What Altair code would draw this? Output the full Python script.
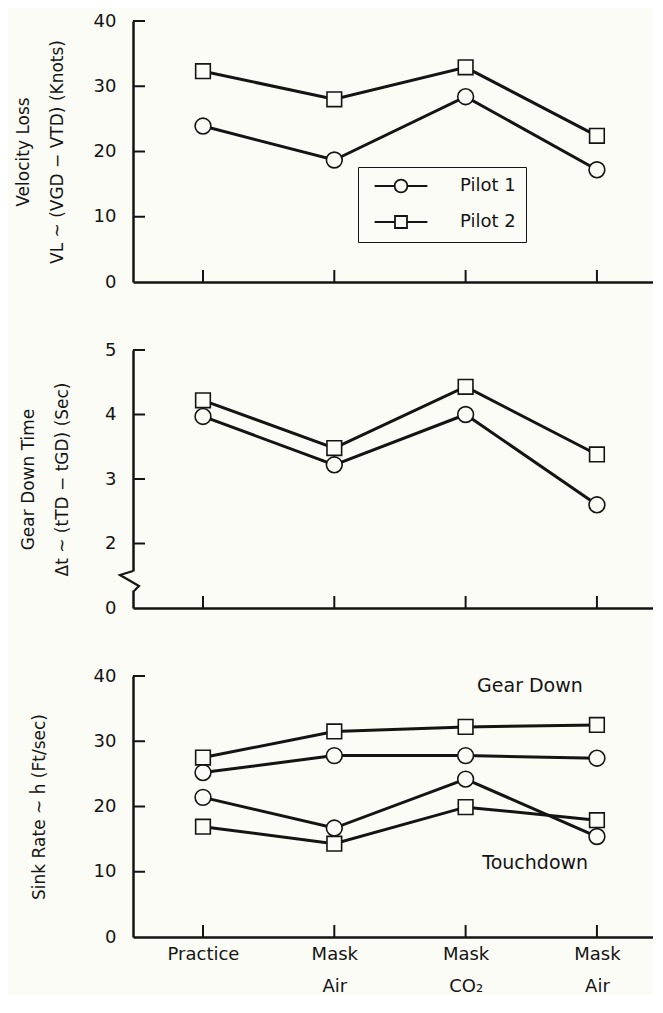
import altair as alt
import pandas as pd

# ---------------- data ----------------
positions = [1, 2, 3, 4]
condition_labels = ["Practice", "Mask|Air", "Mask|CO\u2082", "Mask|Air"]
pilots = ["Pilot 1", "Pilot 2"]

velocity_p1 = [23.9, 18.7, 28.4, 17.2]
velocity_p2 = [32.3, 28.0, 32.9, 22.4]

geartime_p1 = [3.97, 3.22, 4.00, 2.60]
geartime_p2 = [4.22, 3.48, 4.43, 3.38]

sink_gd_p1 = [25.2, 27.8, 27.8, 27.4]
sink_gd_p2 = [27.5, 31.5, 32.2, 32.5]
sink_td_p1 = [21.4, 16.7, 24.2, 15.4]
sink_td_p2 = [16.9, 14.3, 19.9, 17.9]

vel_axis_values = [0, 10, 20, 30, 40]
vel_tick_values = [10, 20, 30, 40]
gear_axis_values = [1, 2, 3, 4, 5]      # bottom "1" is shown as the broken-axis "0"
gear_tick_values = [2, 3, 4, 5]
sink_axis_values = [0, 10, 20, 30, 40]
sink_tick_values = [10, 20, 30, 40]

annot_text = ["Gear Down", "Touchdown"]
annot_x = [3.49, 3.53]
annot_y = [38.5, 11.3]

# ---------------- style ----------------
BG = "#fcfcf6"
INK = "#141414"
FONT = "DejaVu Sans"
W = 520
H_TOP, H_MID, H_BOT = 261, 258, 261
X_DOMAIN = [0.467, 4.427]

LABEL_EXPR = "split([" + ",".join("'" + s + "'" for s in condition_labels) + "][datum.value - 1], '|')"

CIRC_PATH = ("M-3.3,0L-0.8,0M0.8,0L3.3,0M-0.8,0A0.8,0.8 0 1,1 0.8,0"
             "A0.8,0.8 0 1,1 -0.8,0Z")
SQ_PATH = "M-3.3,0L-0.75,0M0.75,0L3.3,0M-0.75,-0.75L0.75,-0.75L0.75,0.75L-0.75,0.75Z"
ZIGZAG = "M0,-1L-1.3,-0.6L0.6,0.5L0.1,1"


def make_df(series):
    rows = []
    for name, pilot, vals in series:
        for p, v in zip(positions, vals):
            rows.append({"pos": p, "value": v, "pilot": pilot, "line": name})
    return pd.DataFrame(rows)


def panel(df, ydomain, yvalues, yticks, title, title_pad, height, show_x_labels,
          ylabel_expr="datum.label"):
    xs = alt.Scale(domain=X_DOMAIN, nice=False, zero=False)
    ys = alt.Scale(domain=ydomain, nice=False, zero=False)
    xaxis = alt.Axis(values=positions, ticks=False, grid=False, title=None,
                     labels=show_x_labels, labelExpr=LABEL_EXPR, labelFont=FONT,
                     labelFontSize=18, labelColor=INK, labelPadding=8,
                     labelLineHeight=32, labelBaseline="top", labelOverlap=False,
                     labelFlush=False, domainColor=INK, domainWidth=2.5, zindex=0)
    yaxis = alt.Axis(values=yvalues, ticks=False, grid=False, title=title,
                     titlePadding=title_pad, titleFont=FONT, titleFontSize=17,
                     titleFontWeight="normal", titleColor=INK, titleLineHeight=34,
                     labelExpr=ylabel_expr, labelFont=FONT, labelFontSize=18,
                     labelColor=INK, labelPadding=17, labelOverlap=False,
                     labelFlush=False, minExtent=40, maxExtent=40,
                     domainColor=INK, domainWidth=2.5, zindex=0)
    base = alt.Chart(df)
    line = base.mark_line(color=INK, strokeWidth=3).encode(
        x=alt.X("pos:Q", scale=xs, axis=xaxis),
        y=alt.Y("value:Q", scale=ys, axis=yaxis),
        detail="line:N",
    )
    circles = base.transform_filter(alt.datum.pilot == "Pilot 1").mark_point(
        shape="circle", size=250, filled=True, fill=BG, stroke=INK,
        strokeWidth=1.6, opacity=1
    ).encode(x=alt.X("pos:Q", scale=xs), y=alt.Y("value:Q", scale=ys))
    squares = base.transform_filter(alt.datum.pilot == "Pilot 2").mark_point(
        shape="square", size=215, filled=True, fill=BG, stroke=INK,
        strokeWidth=1.6, opacity=1
    ).encode(x=alt.X("pos:Q", scale=xs), y=alt.Y("value:Q", scale=ys))
    ytick = alt.Chart(pd.DataFrame({"value": yticks})).mark_rule(
        color=INK, strokeWidth=2).encode(
        y=alt.Y("value:Q", scale=ys), x=alt.value(0), x2=alt.value(12))
    xtick = alt.Chart(pd.DataFrame({"pos": positions})).mark_rule(
        color=INK, strokeWidth=2).encode(
        x=alt.X("pos:Q", scale=xs), y=alt.value(height),
        y2=alt.value(height - 12))
    return [line, ytick, xtick, circles, squares], xs, ys


# ---------- top panel ----------
df_top = make_df([("p1", "Pilot 1", velocity_p1), ("p2", "Pilot 2", velocity_p2)])
layers_top, xs_t, ys_t = panel(
    df_top, [0, 40], vel_axis_values, vel_tick_values,
    ["Velocity Loss", "VL ~ (VGD \u2212 VTD) (Knots)"], 27, H_TOP, False)

legend_layer = alt.Chart(df_top).transform_filter("datum.value < -999").mark_point(
    filled=False, stroke=INK, strokeWidth=1.8, opacity=1
).encode(
    shape=alt.Shape(
        "pilot:N",
        scale=alt.Scale(domain=pilots, range=[CIRC_PATH, SQ_PATH]),
        legend=alt.Legend(
            title=None, orient="none", legendX=225, legendY=146,
            strokeColor=INK, padding=10, symbolSize=256, symbolOffset=24,
            symbolStrokeColor=INK, symbolStrokeWidth=1.8, symbolOpacity=1,
            labelFont=FONT, labelFontSize=18, labelColor=INK,
            labelOffset=50, rowPadding=16,
        ),
    )
)
top = alt.layer(*layers_top, legend_layer).properties(width=W, height=H_TOP)

# ---------- middle panel ----------
df_mid = make_df([("p1", "Pilot 1", geartime_p1), ("p2", "Pilot 2", geartime_p2)])
layers_mid, xs_m, ys_m = panel(
    df_mid, [1, 5], gear_axis_values, gear_tick_values,
    ["Gear Down Time", "\u0394t ~ (tTD \u2212 tGD) (Sec)"], 22, H_MID, False,
    ylabel_expr="datum.value == 1 ? '0' : format(datum.value, 'd')")
one = pd.DataFrame({"k": [0]})
brk_mask = alt.Chart(one).mark_rule(color=BG, strokeWidth=7).encode(
    x=alt.value(0), y=alt.value(H_MID - 36.5), y2=alt.value(H_MID - 17.5))
brk_zig = alt.Chart(one).mark_point(
    shape=ZIGZAG, size=400, filled=False, stroke=INK, strokeWidth=2.2, opacity=1
).encode(x=alt.value(0), y=alt.value(H_MID - 27))
mid = alt.layer(*layers_mid, brk_mask, brk_zig).properties(width=W, height=H_MID)

# ---------- bottom panel ----------
df_bot = make_df([
    ("gd1", "Pilot 1", sink_gd_p1), ("gd2", "Pilot 2", sink_gd_p2),
    ("td1", "Pilot 1", sink_td_p1), ("td2", "Pilot 2", sink_td_p2),
])
layers_bot, xs_b, ys_b = panel(
    df_bot, [0, 40], sink_axis_values, sink_tick_values,
    "Sink Rate ~ \u1e23 (Ft/sec)", 45, H_BOT, True)
annot = alt.Chart(pd.DataFrame({"text": annot_text, "pos": annot_x, "value": annot_y})).mark_text(
    font=FONT, fontSize=19, color=INK, align="center", baseline="middle"
).encode(x=alt.X("pos:Q", scale=xs_b),
         y=alt.Y("value:Q", scale=ys_b), text="text:N")
bot = alt.layer(*layers_bot, annot).properties(width=W, height=H_BOT)

chart = alt.vconcat(top, mid, bot, spacing=68, bounds="flush").properties(
    background=BG,
    padding={"left": 6, "top": 4, "right": 0, "bottom": 0},
).configure_view(stroke=None)

chart.save("out.html", embed_options={"renderer": "svg", "actions": False})
